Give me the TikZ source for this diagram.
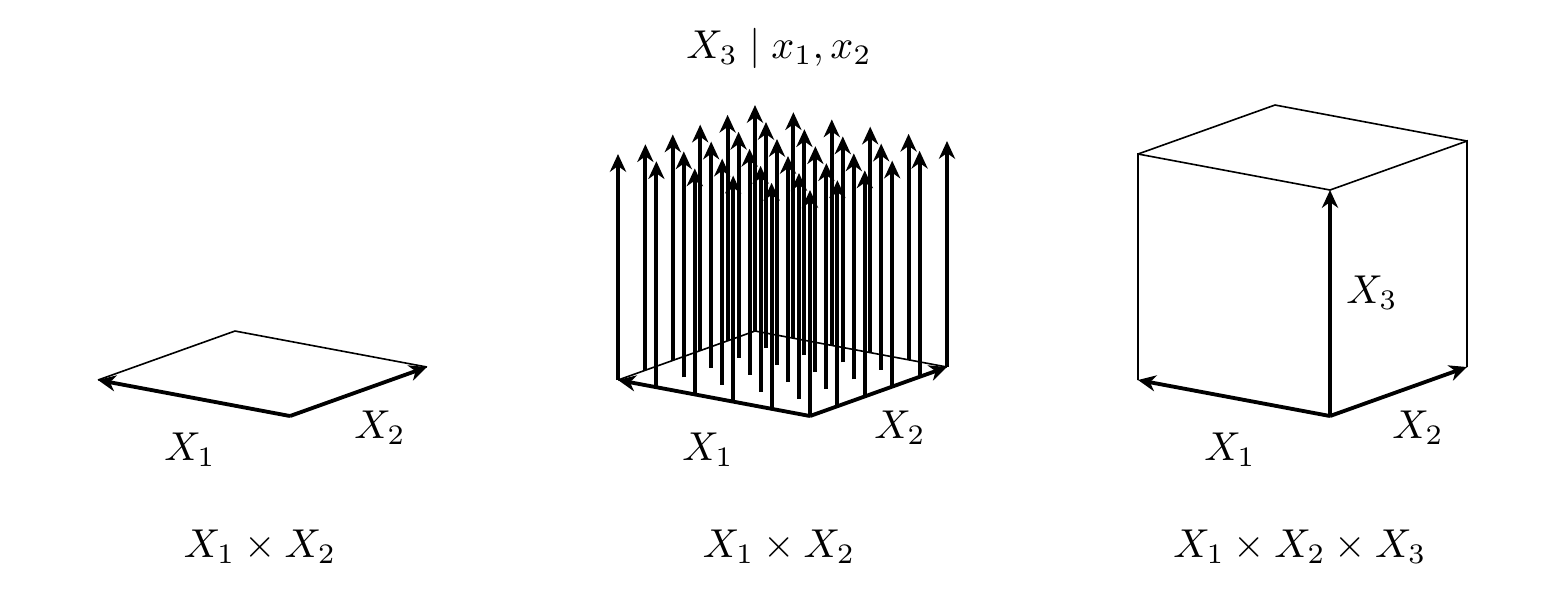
\documentclass[tikz,border=0pt]{standalone}
\usetikzlibrary{arrows.meta}
\begin{document}
\begin{tikzpicture}[x=0.248pt,y=-0.248pt,
  axis/.style={line width=0.95pt,-{Stealth[length=4.4pt,width=4pt,inset=1.4pt]}},
  edge/.style={line width=0.4pt},
  lab/.style={inner sep=0pt}]
\useasboundingbox (0,0) rectangle (1562,593);
% ---------- left: plane ----------
\coordinate (pO) at (290,416);
\coordinate (pA) at (98,380);
\coordinate (pB) at (427,367);
\coordinate (pC) at (235,331);
\draw[edge] (pA) -- (pC) -- (pB);
\draw[axis] (pO) -- (pA);
\draw[axis] (pO) -- (pB);
\node[lab] (pL1) at (190,450) {$X_1$};
\node[lab] (pL2) at (380,428) {$X_2$};
\node[lab] (pT) at (260,547) {$X_1\times X_2$};
% ---------- middle: plane with arrows ----------
\coordinate (mO) at (810,416);
\coordinate (mA) at (618,380);
\coordinate (mB) at (947,367);
\coordinate (mC) at (755,331);
\draw[edge] (mA) -- (mC) -- (mB);
\foreach \i in {5,4,...,0}{
  \foreach \j in {5,4,...,0}{
    \pgfmathsetmacro{\bx}{810-\i*192/5+\j*137/5}
    \pgfmathsetmacro{\by}{416-\i*36/5-\j*49/5}
    \coordinate (b\i\j) at (\bx,\by);
    \coordinate (t\i\j) at (\bx,\by-226);
    \draw[axis] (b\i\j) -- (t\i\j);
  }
}
\draw[axis] (mO) -- (mA);
\draw[axis] (mO) -- (mB);
\node[lab] (mL1) at (708,450) {$X_1$};
\node[lab] (mL2) at (900,428) {$X_2$};
\node[lab] (mT) at (779,547) {$X_1\times X_2$};
\node[lab] (mTop) at (779,48) {$X_3\mid x_1,x_2$};
% ---------- right: cube ----------
\coordinate (cO) at (1330,416);
\coordinate (cA) at (1138,380);
\coordinate (cB) at (1467,367);
\coordinate (cOt) at (1330,190);
\coordinate (cAt) at (1138,154);
\coordinate (cBt) at (1467,141);
\coordinate (cCt) at (1275,105);
\draw[edge] (cA) -- (cAt) -- (cOt) -- (cBt) -- (cB);
\draw[edge] (cAt) -- (cCt) -- (cBt);
\draw[axis] (cO) -- (cA);
\draw[axis] (cO) -- (cB);
\draw[axis] (cO) -- (cOt);
\node[lab] (cL1) at (1230,450) {$X_1$};
\node[lab] (cL2) at (1418,428) {$X_2$};
\node[lab] (cL3) at (1372,293) {$X_3$};
\node[lab] (cT) at (1300,547) {$X_1\times X_2\times X_3$};
\end{tikzpicture}
\end{document}
